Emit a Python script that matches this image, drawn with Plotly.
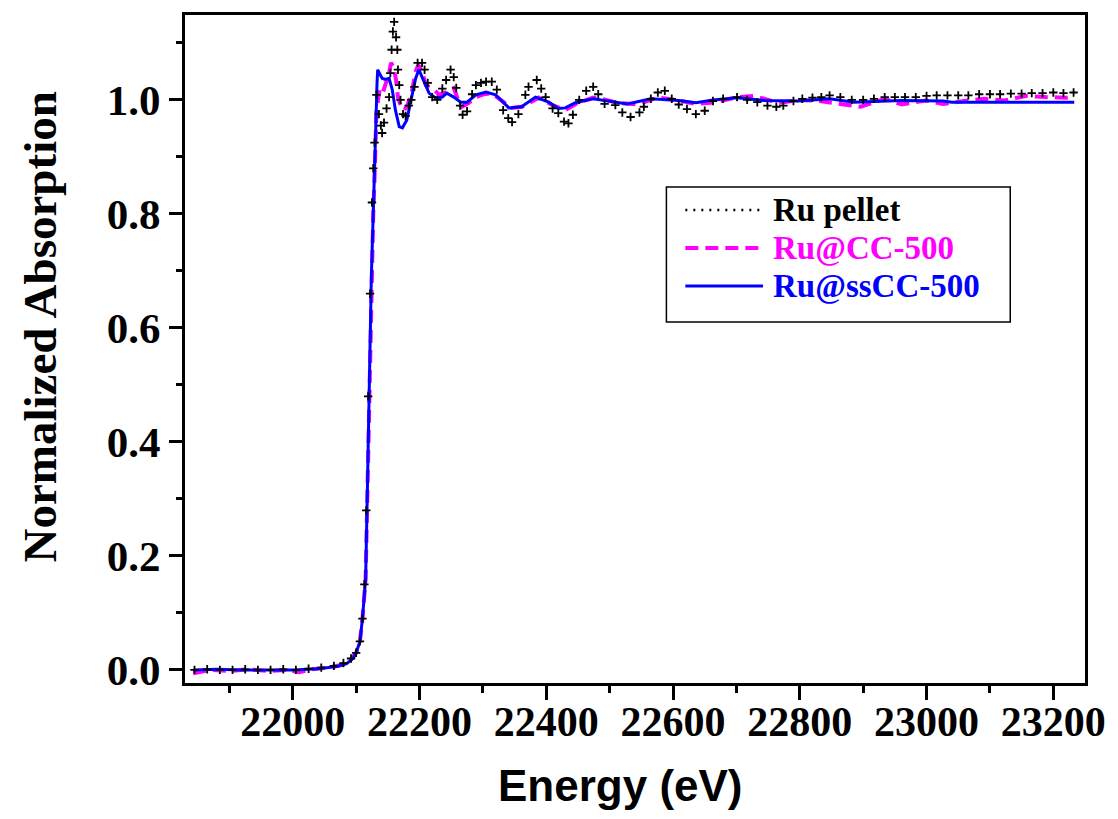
import plotly.graph_objects as go

# ---- Ru K-edge XANES spectra (energy in eV, normalized absorption) ----
pellet_energy = [
    21845, 21865, 21885, 21905, 21925, 21945, 21965, 21985, 22005, 22025,
    22045, 22065, 22080, 22092, 22100, 22106, 22110, 22113, 22116, 22119,
    22122, 22125, 22127, 22129, 22132, 22136, 22139, 22141, 22144, 22148,
    22152, 22154, 22156, 22158, 22160, 22163, 22165, 22166, 22168, 22170,
    22174, 22178, 22183, 22187, 22192, 22197, 22204, 22208, 22213, 22220,
    22228, 22236, 22242, 22249, 22254, 22258, 22264, 22268, 22275, 22283,
    22289, 22297, 22305, 22314, 22322, 22332, 22340, 22346, 22356, 22367,
    22372, 22385, 22392, 22399, 22410, 22419, 22428, 22435, 22442, 22452,
    22463, 22474, 22482, 22492, 22509, 22520, 22533, 22547, 22554, 22565,
    22576, 22587, 22598, 22609, 22622, 22636, 22650, 22663, 22679, 22701,
    22717, 22733, 22749, 22763, 22774, 22790, 22804, 22820, 22834, 22847,
    22864, 22882, 22900, 22917, 22934, 22950, 22966, 22983, 23000, 23016,
    23033, 23050, 23066, 23083, 23100, 23116, 23133, 23150, 23166, 23183,
    23200, 23216, 23232,
]
pellet_mu = [
    0.000, 0.001, 0.000, 0.000, 0.001, 0.000, 0.000, 0.001, 0.000, 0.002,
    0.004, 0.007, 0.012, 0.020, 0.030, 0.050, 0.090, 0.150, 0.280, 0.480,
    0.660, 0.820, 0.880, 0.925, 1.009, 0.975, 0.955, 0.942, 0.960, 0.985,
    1.005, 1.047, 1.088, 1.120, 1.137, 1.110, 1.088, 1.053, 1.026, 1.000,
    0.975, 0.972, 0.990, 1.000, 1.023, 1.065, 1.065, 1.053, 1.030, 1.005,
    1.000, 1.020, 1.035, 1.053, 1.040, 1.021, 0.990, 0.974, 0.980, 1.010,
    1.026, 1.030, 1.032, 1.032, 1.018, 0.982, 0.968, 0.961, 0.975, 1.009,
    1.023, 1.035, 1.020, 1.005, 0.985, 0.977, 0.962, 0.959, 0.974, 1.000,
    1.016, 1.023, 1.010, 0.993, 0.991, 0.978, 0.970, 0.978, 0.988, 1.002,
    1.013, 1.016, 1.002, 0.992, 0.984, 0.975, 0.981, 0.998, 1.002, 1.005,
    1.000, 0.996, 0.990, 0.988, 0.990, 0.998, 1.002, 1.004, 1.005, 1.008,
    1.005, 1.000, 1.000, 1.002, 1.005, 1.005, 1.005, 1.005, 1.007, 1.008,
    1.008, 1.008, 1.008, 1.010, 1.010, 1.010, 1.011, 1.011, 1.012, 1.012,
    1.013, 1.012, 1.013,
]

cc_energy = [
    21843, 21870, 21900, 21930, 21960, 21990, 22010, 22030, 22055, 22075,
    22090, 22100, 22106, 22110, 22115, 22118, 22121, 22124, 22127, 22129,
    22132, 22137, 22142, 22147, 22151, 22155, 22159, 22163, 22166, 22171,
    22176, 22181, 22187, 22194, 22198, 22204, 22210, 22223, 22231, 22242,
    22254, 22261, 22267, 22278, 22289, 22302, 22314, 22328, 22345, 22362,
    22388, 22408, 22430, 22450, 22474, 22495, 22511, 22543, 22576, 22605,
    22636, 22668, 22701, 22728, 22766, 22800, 22831, 22864, 22896, 22934,
    22961, 22999, 23026, 23059, 23091, 23123, 23156, 23188, 23220, 23233,
]
cc_mu = [
    -0.006, 0.000, -0.002, 0.001, -0.002, 0.000, -0.004, 0.001, 0.004, 0.008,
    0.016, 0.030, 0.050, 0.090, 0.160, 0.330, 0.520, 0.690, 0.800, 0.860,
    0.980, 1.018, 1.012, 1.030, 1.040, 1.065, 1.058, 1.035, 1.005, 0.988,
    0.982, 0.991, 1.009, 1.050, 1.061, 1.050, 1.026, 1.018, 1.009, 1.014,
    1.021, 1.000, 0.988, 0.995, 1.005, 1.010, 1.012, 1.000, 0.986, 0.988,
    1.004, 0.992, 0.982, 0.995, 1.004, 1.000, 0.995, 0.992, 1.004, 1.000,
    0.993, 0.996, 1.005, 1.007, 0.995, 1.000, 0.998, 0.993, 0.988, 1.002,
    0.992, 0.999, 0.993, 0.998, 1.002, 0.999, 1.007, 1.005, 1.004, 1.006,
]

sscc_energy = [
    21843, 21880, 21920, 21960, 22000, 22040, 22070, 22085, 22095, 22100,
    22106, 22110, 22115, 22118, 22121, 22124, 22127, 22129, 22131, 22133,
    22134, 22138, 22141, 22146, 22152, 22157, 22162, 22168, 22173, 22180,
    22187, 22194, 22199, 22206, 22215, 22226, 22236, 22243, 22254, 22265,
    22275, 22289, 22305, 22320, 22341, 22361, 22383, 22404, 22419, 22430,
    22446, 22474, 22495, 22528, 22565, 22609, 22636, 22663, 22701, 22744,
    22798, 22847, 22885, 22961, 23026, 23040, 23100, 23160, 23233,
]
sscc_mu = [
    0.000, 0.001, 0.000, 0.000, 0.000, 0.002, 0.006, 0.011, 0.020, 0.030,
    0.050, 0.090, 0.160, 0.330, 0.520, 0.690, 0.800, 0.860, 0.950, 1.030,
    1.053, 1.044, 1.038, 1.036, 1.038, 1.018, 0.982, 0.953, 0.951, 0.965,
    1.000, 1.038, 1.053, 1.035, 1.012, 1.003, 1.005, 1.012, 1.005, 0.996,
    0.996, 1.009, 1.014, 1.009, 0.986, 0.988, 1.005, 0.996, 0.985, 0.986,
    0.995, 1.002, 0.998, 0.993, 1.002, 0.999, 0.995, 1.000, 1.004, 0.999,
    0.998, 1.002, 0.996, 0.999, 0.998, 0.996, 0.996, 0.996, 0.996,
]

series_names = ["Ru pellet", "Ru@CC-500", "Ru@ssCC-500"]
series_colors = ["#000000", "#FF00FF", "#0000FF"]

x_tick_vals = [22000, 22200, 22400, 22600, 22800, 23000, 23200]
y_tick_vals = [0.0, 0.2, 0.4, 0.6, 0.8, 1.0]

SERIF = "Liberation Serif, Times New Roman, serif"
SANS = "Liberation Sans, Arial, sans-serif"

fig = go.Figure()

fig.add_trace(go.Scatter(
    x=cc_energy, y=cc_mu, mode="lines", name=series_names[1],
    line=dict(color=series_colors[1], width=4, dash="13px,7px"),
    showlegend=False,
))
fig.add_trace(go.Scatter(
    x=sscc_energy, y=sscc_mu, mode="lines", name=series_names[2],
    line=dict(color=series_colors[2], width=3),
    showlegend=False,
))
fig.add_trace(go.Scatter(
    x=pellet_energy, y=pellet_mu, mode="markers", name=series_names[0],
    marker=dict(symbol="cross-thin", size=6, color=series_colors[0],
                line=dict(color=series_colors[0], width=1.8)),
    showlegend=False,
))

# plot-area geometry in pixels, used to place the hand-built legend box
W, H = 1118, 819
L, R, T, B = 185, 30, 15, 136
pw, ph = W - L - R, H - T - B


def px(xp):
    return (xp - L) / pw


def py(yp):
    return (H - B - yp) / ph


shapes = [dict(type="rect", xref="paper", yref="paper",
               x0=px(668), x1=px(1013), y0=py(322), y1=py(187),
               line=dict(color="black", width=1.5), fillcolor="white",
               layer="above")]
annotations = []
row_y = [210, 248, 286]
sample_dash = ["2px,6px", "13px,7px", "solid"]
sample_width = [2.5, 4, 3]
for name, color, yy, dash, lw in zip(series_names, series_colors, row_y,
                                     sample_dash, sample_width):
    shapes.append(dict(type="line", xref="paper", yref="paper",
                       x0=px(687), x1=px(765), y0=py(yy), y1=py(yy),
                       line=dict(color=color, width=lw, dash=dash),
                       layer="above"))
    annotations.append(dict(
        xref="paper", yref="paper", x=px(773), y=py(yy), text=name,
        showarrow=False, xanchor="left", yanchor="middle",
        font=dict(family=SERIF, size=33, color=color, weight="bold"),
    ))

annotations.append(dict(
    xref="paper", yref="paper", x=px(40), y=py(327),
    text="Normalized Absorption", textangle=-90, showarrow=False,
    xanchor="center", yanchor="middle",
    font=dict(family=SERIF, size=47, color="black", weight="bold"),
))
annotations.append(dict(
    xref="paper", yref="paper", x=px(622), y=py(785),
    text="Energy (eV)", showarrow=False,
    xanchor="center", yanchor="middle",
    font=dict(family=SANS, size=44, color="black", weight="bold"),
))

fig.update_layout(
    width=W, height=H,
    margin=dict(l=L, r=R, t=T, b=B),
    paper_bgcolor="white", plot_bgcolor="white",
    shapes=shapes, annotations=annotations,
    showlegend=False,
)

fig.update_xaxes(
    range=[21830, 23250],
    tickmode="array", tickvals=x_tick_vals, tickformat="d",
    ticks="outside", ticklen=14, tickwidth=3, tickcolor="black",
    ticklabelstandoff=-14,
    showline=True, linewidth=3, linecolor="black", mirror=True,
    showgrid=False, zeroline=False,
    tickfont=dict(family=SERIF, size=42, color="black", weight="bold"),
    minor=dict(ticks="outside", ticklen=7, tickwidth=2.5, tickcolor="black",
               dtick=100, tick0=21900, showgrid=False),
)
fig.update_yaxes(
    range=[-0.023, 1.149],
    tickmode="array", tickvals=y_tick_vals, tickformat=".1f",
    ticks="outside", ticklen=13, tickwidth=3, tickcolor="black",
    showline=True, linewidth=3, linecolor="black", mirror=True,
    showgrid=False, zeroline=False,
    tickfont=dict(family=SERIF, size=43, color="black", weight="bold"),
    minor=dict(ticks="outside", ticklen=6, tickwidth=2.5, tickcolor="black",
               dtick=0.1, tick0=0.1, showgrid=False),
)

fig.write_html("out.html")
